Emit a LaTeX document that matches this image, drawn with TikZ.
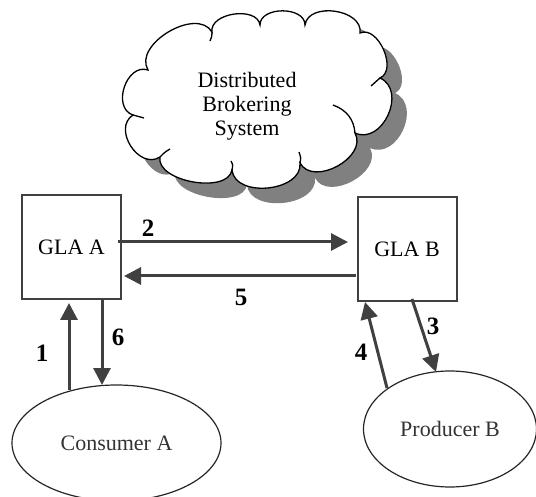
\documentclass[tikz,border=0pt]{standalone}
\usepackage{fontspec}
\setmainfont{Liberation Serif}
\usetikzlibrary{arrows.meta,calc,shapes.geometric}
\definecolor{boxgray}{HTML}{404040}
\definecolor{arrowgray}{HTML}{404040}
\definecolor{shadowgray}{HTML}{808080}
\begin{document}
\begin{tikzpicture}[x=1pt,y=-1pt,
  puff/.style n args={3}{insert path={.. controls ($(#1)!#3!90:(#2)$) and ($(#2)!#3!-90:(#1)$) .. (#2)}},
  cloudpath/.style={insert path={(J1) [puff={J1}{J2}{0.40}] [puff={J2}{J3}{0.40}] [puff={J3}{J4}{0.42}]
     [puff={J4}{J5}{0.43}] [puff={J5}{J6}{0.40}] [puff={J6}{J7}{0.50}] [puff={J7}{J8}{0.44}]
     [puff={J8}{J9}{0.42}] [puff={J9}{J10}{0.34}] [puff={J10}{J11}{0.50}] [puff={J11}{J1}{0.48}] -- cycle}},
  cloudline/.style={draw=black, line width=1.3pt},
  box/.style={draw=boxgray, line width=2pt, minimum width=99pt, minimum height=104pt, inner sep=0pt, font=\fontsize{22}{26}\selectfont},
  oval/.style={draw=black!85, line width=1.2pt, ellipse, inner sep=0pt, text=black!80, font=\fontsize{22}{26}\selectfont},
  flow/.style={draw=arrowgray, line width=3pt, -{Triangle[length=17pt,width=17pt]}},
  num/.style={font=\fontsize{25}{28}\selectfont\bfseries, inner sep=0pt}]
\useasboundingbox (0,0) rectangle (536,497);
% cloud junctions
\coordinate (J1) at (148,70);
\coordinate (J2) at (212,32);
\coordinate (J3) at (260,25);
\coordinate (J4) at (305,25);
\coordinate (J5) at (360,33);
\coordinate (J6) at (380,78);
\coordinate (J7) at (355,133);
\coordinate (J8) at (300,163);
\coordinate (J9) at (232,170);
\coordinate (J10) at (160,157);
\coordinate (J11) at (133,115);
% shadow
\begin{scope}[transform canvas={shift={(15pt,-15pt)}}]
  \fill[shadowgray] [cloudpath];
\end{scope}
% cloud
\path[fill=white, cloudline] [cloudpath];
\draw[cloudline] (J2) .. controls (212,36) .. (210,41);
\draw[cloudline] (J6) .. controls (376,82) .. (371,86);
\draw[cloudline] (333,105) .. controls (347,110) and (354,120) .. (J7);
\draw[cloudline] (J8) .. controls (301,158) .. (299,152);
\draw[cloudline] (J9) .. controls (233,165) .. (231,161);
\draw[cloudline] (J10) .. controls (165,152) .. (170,149);
\draw[cloudline] (J11) .. controls (138,117) .. (144,118);
\node[align=center, inner sep=0pt, font=\fontsize{22}{24}\selectfont] (dbs) at (247,106) {Distributed\\Brokering\\System};
% boxes
\node[box] (glaA) at (71.5,247) {GLA A};
\node[box] (glaB) at (407,249) {GLA B};
% ellipses
\node[oval, minimum width=209pt, minimum height=116pt] (consA) at (116.5,443) {Consumer A};
\node[oval, minimum width=173pt, minimum height=116pt] (prodB) at (450,429) {Producer B};
% connector ends
\coordinate (s2) at (118,242); \coordinate (e2) at (348,242);
\coordinate (s5) at (356,276); \coordinate (e5) at (124,276);
\coordinate (s1) at (69,390);  \coordinate (e1) at (69,303);
\coordinate (s6) at (102,300); \coordinate (e6) at (102,385);
\coordinate (s3) at (412,299); \coordinate (e3) at (436,372);
\coordinate (s4) at (387,388); \coordinate (e4) at (365,302);
\draw[flow] (s2) -- (e2);
\draw[flow] (s5) -- (e5);
\draw[flow] (s1) -- (e1);
\draw[flow] (s6) -- (e6);
\draw[flow] (s3) -- (e3);
\draw[flow] (s4) -- (e4);
% labels
\node[num] (l2) at (148,228) {2};
\node[num] (l5) at (241,297) {5};
\node[num] (l1) at (42,353) {1};
\node[num] (l6) at (118,337) {6};
\node[num] (l3) at (433,326) {3};
\node[num] (l4) at (361,352) {4};
\end{tikzpicture}
\end{document}
